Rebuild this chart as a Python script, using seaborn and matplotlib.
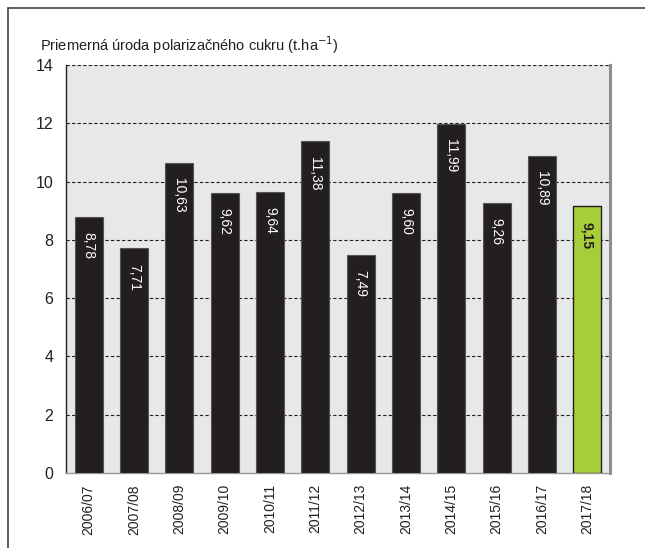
import matplotlib
matplotlib.use('Agg')
import matplotlib.pyplot as plt
import matplotlib.lines as mlines
import seaborn as sns
import pandas as pd
import numpy as np

# data
seasons = ['2006/07', '2007/08', '2008/09', '2009/10', '2010/11', '2011/12',
           '2012/13', '2013/14', '2014/15', '2015/16', '2016/17', '2017/18']
yields = [8.78, 7.71, 10.63, 9.62, 9.64, 11.38, 7.49, 9.60, 11.99, 9.26, 10.89, 9.15]
labels = ['8,78', '7,71', '10,63', '9,62', '9,64', '11,38', '7,49', '9,60', '11,99', '9,26', '10,89', '9,15']

df = pd.DataFrame({'season': seasons, 'yield': yields})
colors = ['#231f20'] * 11 + ['#a6ce39']

sns.set_style('white')
plt.rcParams['font.family'] = ['Liberation Sans', 'DejaVu Sans']

fig = plt.figure(figsize=(6.45, 5.48), dpi=100)
ax = fig.add_axes([0.1023, 0.1369, 0.8434, 0.7445])
ax.set_facecolor('#e7e8e9')

sns.barplot(data=df, x='season', y='yield', hue='season', palette=colors, saturation=1,
            legend=False, width=0.62, edgecolor='#555555', linewidth=0.8, ax=ax, zorder=3)
# dark edge on the green bar
ax.patches[-1].set_edgecolor('#231f20')
ax.patches[-1].set_linewidth(1.0)

ax.set_ylim(0, 14)
ax.set_xlim(-0.5, 11.5)
ax.set_yticks(np.arange(0, 15, 2))
ax.set_yticklabels([str(v) for v in range(0, 15, 2)], fontsize=11.5, color='#231f20')
for v in range(2, 15, 2):
    ax.axhline(v, color='#231f20', lw=0.8, ls=(0, (3, 2)), zorder=1)

ax.set_xticks(range(len(seasons)))
ax.set_xticklabels(seasons, rotation=90, fontsize=10, color='#231f20')
ax.set_xticks(np.arange(-0.5, 11, 1), minor=True)
ax.tick_params(axis='x', which='major', length=0, pad=8)
ax.tick_params(axis='x', which='minor', length=6, width=1, color='#231f20', direction='out')
ax.tick_params(axis='y', length=6, width=1, color='#231f20', direction='out', pad=3)

ax.set_xlabel('')
ax.set_ylabel('')

ax.spines['top'].set_visible(False)
ax.spines['left'].set_color('#231f20')
ax.spines['left'].set_linewidth(1.0)
ax.spines['bottom'].set_color('#9a9a9a')
ax.spines['bottom'].set_linewidth(1.0)
ax.spines['right'].set_color('#8c8c8c')
ax.spines['right'].set_linewidth(2.2)

# value labels inside bars
for i, (v, lab) in enumerate(zip(yields, labels)):
    last = i == len(yields) - 1
    ax.annotate(lab, (i, v), xytext=(0, -11), textcoords='offset points',
                rotation=-90, ha='center', va='top', fontsize=10,
                color='#231f20' if last else 'white',
                fontweight='bold' if last else 'normal', zorder=4)

fig.text(40 / 645, 1 - 45 / 548, 'Priemerná úroda polarizačného cukru (t.ha$^{-1}$)',
         fontsize=10.5, color='#231f20', va='center', ha='left')

# outer frame (top and left)
fig.add_artist(mlines.Line2D([8 / 645, 1], [1 - 8 / 548, 1 - 8 / 548], color='#444444', lw=1.2))
fig.add_artist(mlines.Line2D([8 / 645, 8 / 645], [0, 1 - 8 / 548], color='#444444', lw=1.2))

fig.savefig('out.png', dpi=100)
